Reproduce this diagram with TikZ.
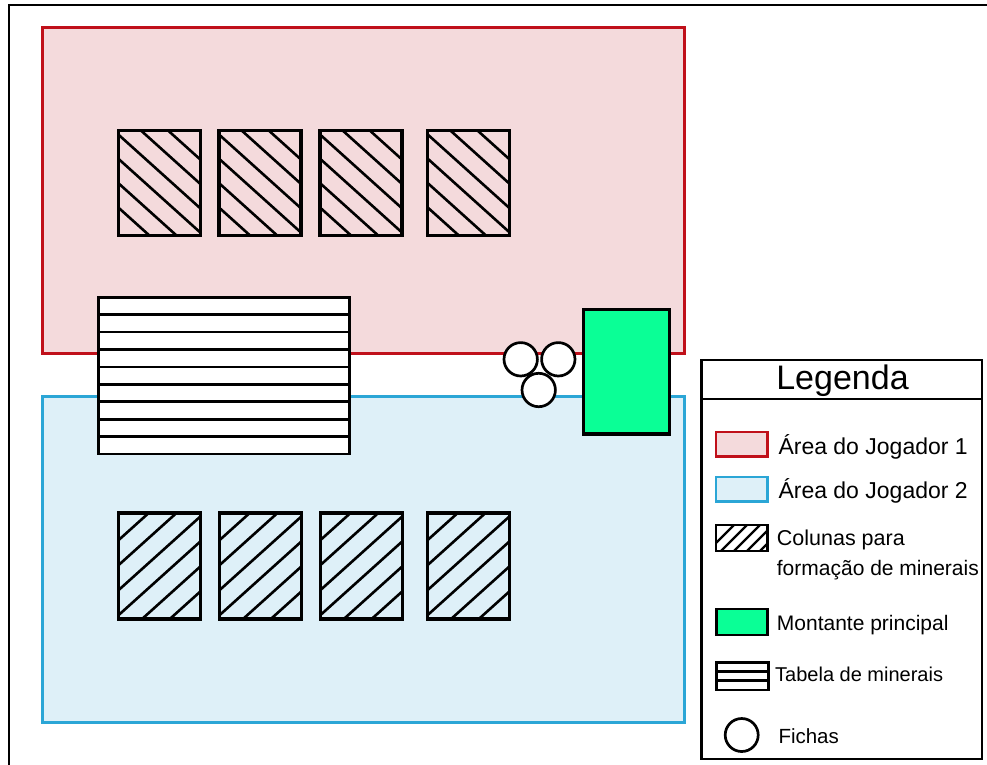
\documentclass[tikz,border=0pt]{standalone}
\usepackage{fontspec}
\setmainfont{Liberation Sans}
\definecolor{redline}{RGB}{192,16,26}
\definecolor{redfill}{RGB}{244,218,220}
\definecolor{blueline}{RGB}{43,166,214}
\definecolor{bluefill}{RGB}{222,240,248}
\definecolor{mintgreen}{RGB}{10,255,150}

\begin{document}
\begin{tikzpicture}[x=1pt,y=-1pt,
  area1/.style={draw=redline,fill=redfill,line width=2.8pt},
  area2/.style={draw=blueline,fill=bluefill,line width=2.8pt},
  frame/.style={draw=black,line width=2.8pt},
  hatchline/.style={draw=black,line width=2.6pt},
  boxline/.style={draw=black,line width=3.2pt},
  thinbox/.style={draw=black,line width=2.7pt},
  lbl/.style={anchor=base west,inner sep=0pt,font=\fontsize{20.5}{24}\selectfont},
  lblbig/.style={anchor=base west,inner sep=0pt,font=\fontsize{23}{27}\selectfont},
]
\useasboundingbox (0,0) rectangle (987,764);

% outer frame (only top and left edges fall inside the page)
\draw[frame] (9,790) -- (9,5) -- (1010,5);

% player areas
\draw[area1] (42.7,27.5) rectangle (684.5,353.3);
\draw[area2] (42.7,396.7) rectangle (684.5,722.3);

% mineral columns, player 1 (hatch going down to the right)
\foreach \x in {118.3,219,320,427.7}{
  \begin{scope}
    \clip (\x,130.7) rectangle ++(82,105);
    \foreach \c in {-45,-20.6,3.8,28,52.4,76.8}
      \draw[hatchline] ({\x-100},{130.7+(\c)-90}) -- ({\x+200},{130.7+(\c)+180});
  \end{scope}
  \draw[boxline] (\x,130.7) rectangle ++(82,105);
}

% mineral columns, player 2 (hatch going up to the right)
\foreach \x in {118.7,219.7,320.5,427.7}{
  \begin{scope}
    \clip (\x,513) rectangle ++(82,106);
    \foreach \c in {27,52,77,102,127,152}
      \draw[hatchline] ({\x-100},{513+(\c)+90}) -- ({\x+200},{513+(\c)-180});
  \end{scope}
  \draw[boxline] (\x,513) rectangle ++(82,106);
}

% table of minerals
\draw[thinbox,fill=white] (98.3,297.3) rectangle (349.3,454);
\foreach \i in {1,...,8}
  \draw[thinbox] (98.3,{297.3+\i*17.41}) -- (349.3,{297.3+\i*17.41});

% tokens
\draw[thinbox,fill=white] (520.7,359.3) circle[radius=16.7pt];
\draw[thinbox,fill=white] (558.3,359.3) circle[radius=16.7pt];
\draw[thinbox,fill=white] (538.7,390) circle[radius=16.7pt];

% main pile
\draw[boxline,fill=mintgreen] (583.3,309.3) rectangle (669.7,434);

% legend
\draw[frame,fill=white] (701.5,360) rectangle (982,759);
\draw[frame] (701.5,399) -- (982,399);
\node[anchor=base,inner sep=0pt,font=\fontsize{34}{40}\selectfont] (legtitle) at (842.5,389) {Legenda};

\draw[draw=redline,fill=redfill,line width=2.4pt] (716,432) rectangle (767.5,456.5);
\node[lblbig] (lgarea1) at (778.3,454) {Área do Jogador 1};

\draw[draw=blueline,fill=bluefill,line width=2.4pt] (716,477) rectangle (767.5,501.5);
\node[lblbig] (lgarea2) at (778.3,498) {Área do Jogador 2};

\begin{scope}
  \clip (716,525) rectangle (767.5,551);
  \foreach \c in {-8,5,18,31,44,57}
    \draw[draw=black,line width=2.3pt] ({716+\c},551) -- ({716+\c+26},525);
\end{scope}
\draw[thinbox] (716,525) rectangle (767.5,551);
\node[lbl,font=\fontsize{21.5}{25}\selectfont] (lgcol1) at (776.7,545.7) {Colunas para};
\node[lbl,font=\fontsize{21}{25}\selectfont] (lgcol2) at (776.7,575) {formação de minerais};

\draw[thinbox,fill=mintgreen] (716.7,609) rectangle (767.7,635);
\node[lbl,font=\fontsize{21}{25}\selectfont] (lgpile) at (776.7,630) {Montante principal};

\draw[thinbox] (716.7,662.3) rectangle (768.3,690);
\draw[thinbox] (716.7,671.5) -- (768.3,671.5);
\draw[thinbox] (716.7,680.8) -- (768.3,680.8);
\node[lbl,font=\fontsize{20}{24}\selectfont] (lgtable) at (775,681) {Tabela de minerais};

\draw[thinbox] (741.7,735) circle[radius=16.5pt];
\node[lbl] (lgtoken) at (778.3,743.3) {Fichas};
\end{tikzpicture}
\end{document}
